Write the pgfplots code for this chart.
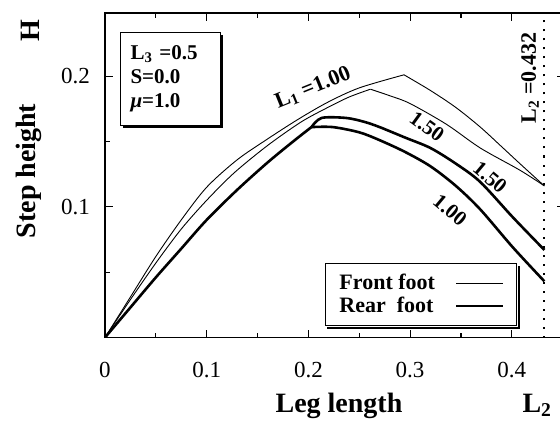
\documentclass[border=0pt]{standalone}
\usepackage{fontspec}
\setmainfont{Liberation Serif}
\usepackage{pgfplots}
\pgfplotsset{compat=1.18}
\usetikzlibrary{shadows}

\begin{document}
\begin{tikzpicture}
\begin{axis}[scale only axis,
    width=460pt, height=324.5pt,
    xmin=0, xmax=0.4523, ymin=0, ymax=0.2483,
    axis line style={line width=1.2pt},
    every tick/.style={black, line width=1.1pt},
    major tick length=8pt, minor tick length=5pt,
    xtick={0,0.1,0.2,0.3,0.4}, xticklabels={0,0.1,0.2,0.3,0.4},
    ytick={0.1,0.2}, yticklabels={0.1,0.2},
    minor xtick={0.05,0.15,0.25,0.35}, minor ytick={0.05,0.15},
    xticklabel style={font=\fontsize{23}{24}\selectfont, inner sep=0pt, anchor=north, yshift=-24.5pt},
    yticklabel style={font=\fontsize{23}{24}\selectfont, inner sep=0pt, anchor=east, xshift=-15pt},
    legend plot pos=right,
    legend cell align=left,
    legend image code/.code={\draw[#1] (0pt,0pt) -- (47pt,0pt);},
    legend style={at={(axis cs:0.2163,0.057)}, anchor=north west, name=leg,
        draw=black, line width=1pt, fill=white,
        font=\fontsize{22}{24}\selectfont\bfseries,
        inner xsep=12pt, inner ysep=8.5pt, row sep=1pt, column sep=18pt,
        nodes={inner sep=2pt, text height=15pt, text depth=3pt}},
]
% front foot, L1 = 1.00
\addplot[black, line width=0.9pt, smooth, tension=0.5] coordinates {
(0,0) (0.025,0.031) (0.05,0.062) (0.075,0.090) (0.10,0.115) (0.13,0.136)
(0.16,0.152) (0.19,0.167) (0.219,0.180) (0.25,0.191) (0.294,0.201)};
\addlegendentry{Front foot}
% rear foot, rising part (both L1)
\addplot[black, line width=2.6pt, smooth, tension=0.5] coordinates {
(0,0) (0.025,0.023) (0.05,0.046) (0.075,0.068) (0.10,0.090) (0.13,0.113)
(0.16,0.134) (0.185,0.150) (0.203,0.161)};
\addlegendentry{Rear\ \ foot}
\addplot[black, line width=0.9pt, smooth, tension=0.5, forget plot] coordinates {
(0.294,0.201) (0.320,0.189) (0.345,0.176) (0.369,0.161) (0.39,0.146) (0.408,0.133) (0.432,0.116)};
% front foot, L1 = 1.50
\addplot[black, line width=0.9pt, smooth, tension=0.5, forget plot] coordinates {
(0,0) (0.025,0.029) (0.05,0.057) (0.075,0.083) (0.10,0.105) (0.127,0.126)
(0.16,0.147) (0.193,0.165) (0.219,0.176) (0.24,0.184) (0.261,0.190)};
\addplot[black, line width=0.9pt, smooth, tension=0.5, forget plot] coordinates {
(0.261,0.190) (0.28,0.185) (0.30,0.179) (0.336,0.163) (0.369,0.145) (0.408,0.128) (0.432,0.116)};
% rear foot, L1 = 1.00
\addplot[black, line width=2.6pt, smooth, tension=0.5, forget plot] coordinates {
(0.203,0.161) (0.224,0.161) (0.25,0.157) (0.270,0.151)
(0.295,0.142) (0.320,0.131) (0.345,0.116) (0.369,0.098) (0.401,0.069) (0.432,0.043)};
% rear foot, L1 = 1.50
\addplot[black, line width=2.6pt, smooth, tension=0.5, forget plot] coordinates {
(0.203,0.161) (0.213,0.168) (0.237,0.168) (0.255,0.165) (0.270,0.161)
(0.295,0.153) (0.320,0.145) (0.345,0.133) (0.369,0.119) (0.401,0.092) (0.432,0.067)};
% L2 limit
\addplot[black, line width=2pt, dash pattern=on 2pt off 7pt, forget plot]
  coordinates {(0.432,0) (0.432,0.2483)};
\end{axis}

% legend shadow
\fill[black] ([xshift=2.5pt,yshift=-3pt]leg.south west) rectangle ([xshift=3pt,yshift=-0.5pt]leg.south east);
\fill[black] ([xshift=0.5pt,yshift=-3pt]leg.south east) rectangle ([xshift=3pt,yshift=-2.5pt]leg.north east);

% axis titles
\node[rotate=90, font=\fontsize{28}{30}\selectfont\bfseries] at (-76pt,166.5pt) {Step height};
\node[rotate=90, font=\fontsize{28}{30}\selectfont\bfseries] at (-75pt,306.5pt) {H};
\node[anchor=base, font=\fontsize{28}{30}\selectfont\bfseries] at (234pt,-74.5pt) {Leg length};
\node[anchor=base, font=\fontsize{28}{30}\selectfont\bfseries] at (432pt,-74.5pt) {L\textsubscript{2}};

% parameter box
\node[draw=black, line width=1pt, fill=white, anchor=north west,
      drop shadow={shadow xshift=2.5pt, shadow yshift=-2.5pt, opacity=1, fill=black},
      inner xsep=10pt, text width=80pt, minimum height=93pt, align=left,
      font=\fontsize{21}{24}\selectfont\bfseries] at (15pt,305.5pt)
      {L\textsubscript{3} =0.5\\S=0.0\\{\itshape μ}=1.0};

% curve labels
\node[rotate=22, font=\fontsize{22}{24}\selectfont\bfseries] at (208pt,249.5pt) {L\textsubscript{1} =1.00};
\node[rotate=-36, font=\fontsize{21}{24}\selectfont\bfseries] at (322pt,211pt) {1.50};
\node[rotate=-40, font=\fontsize{21}{24}\selectfont\bfseries] at (385pt,160pt) {1.50};
\node[rotate=-40, font=\fontsize{21}{24}\selectfont\bfseries] at (345pt,127.5pt) {1.00};
\node[rotate=90, font=\fontsize{22}{24}\selectfont\bfseries] at (425pt,259.5pt) {L\textsubscript{2} =0.432};

\pgfresetboundingbox
\path[use as bounding box] (-105pt,-83.5pt) rectangle (455pt,337.5pt);
\end{tikzpicture}
\end{document}
